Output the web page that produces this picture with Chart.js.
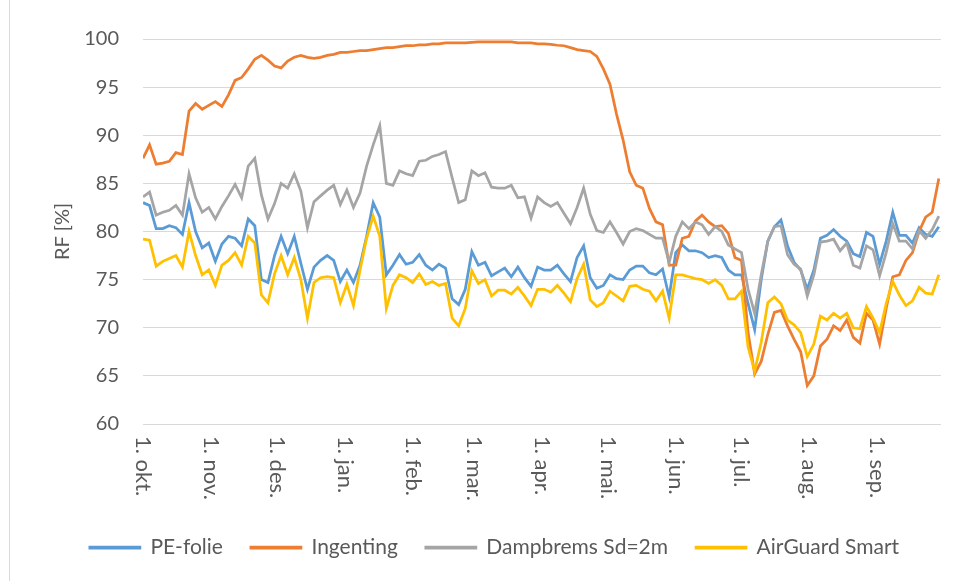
<!DOCTYPE html>
<html>
<head>
<meta charset="utf-8">
<script src="https://cdn.jsdelivr.net/npm/chart.js@4.4.1/dist/chart.umd.min.js"></script>
<style>
  html, body { margin: 0; padding: 0; background: #fff; }
  #wrap { width: 958px; height: 581px; }
</style>
</head>
<body>
<div id="wrap"><canvas id="rfChart" width="958" height="581"></canvas></div>
<script>
// day offsets from 1. okt. (sampled every 3rd day)
const sampleDay = [0, 3, 6, 9, 12, 15, 18, 21, 24, 27, 30, 33, 36, 39, 42, 45, 48, 51, 54, 57,
  60, 63, 66, 69, 72, 75, 78, 81, 84, 87, 90, 93, 96, 99, 102, 105, 108, 111, 114, 117,
  120, 123, 126, 129, 132, 135, 138, 141, 144, 147, 150, 153, 156, 159, 162, 165, 168, 171, 174, 177,
  180, 183, 186, 189, 192, 195, 198, 201, 204, 207, 210, 213, 216, 219, 222, 225, 228, 231, 234, 237,
  240, 243, 246, 249, 252, 255, 258, 261, 264, 267, 270, 273, 276, 279, 282, 285, 288, 291, 294, 297,
  300, 303, 306, 309, 312, 315, 318, 321, 324, 327, 330, 333, 336, 339, 342, 345, 348, 351, 354, 357,
  360, 363];

const monthDay = [0, 31, 61, 92, 123, 151, 182, 212, 243, 273, 304, 335];
const monthLabel = ["1. okt.", "1. nov.", "1. des.", "1. jan.", "1. feb.", "1. mar.",
  "1. apr.", "1. mai.", "1. jun.", "1. jul.", "1. aug.", "1. sep."];

const yTicks = [60, 65, 70, 75, 80, 85, 90, 95, 100];

const peFolie = [83.0, 82.7, 80.3, 80.3, 80.6, 80.4, 79.7, 83.0, 80.0, 78.3, 78.8, 76.9, 78.7, 79.5, 79.3, 78.5, 81.3, 80.6, 75.0, 74.7,
  77.5, 79.5, 77.7, 79.5, 76.7, 74.0, 76.3, 77.0, 77.5, 77.0, 74.8, 76.0, 74.7, 76.5, 79.5, 83.0, 81.5, 75.5, 76.5, 77.6,
  76.6, 76.8, 77.6, 76.5, 76.0, 76.6, 76.2, 73.0, 72.4, 74.0, 77.9, 76.5, 76.8, 75.4, 75.8, 76.2, 75.3, 76.3, 75.2, 74.3,
  76.3, 76.0, 76.0, 76.5, 75.6, 74.8, 77.3, 78.5, 75.2, 74.1, 74.4, 75.5, 75.1, 75.0, 76.0, 76.4, 76.4, 75.7, 75.5, 76.1,
  73.2, 77.8, 78.6, 78.0, 78.0, 77.8, 77.3, 77.5, 77.3, 76.0, 75.5, 75.5, 72.5, 69.8, 75.0, 79.0, 80.5, 81.2, 78.5, 76.8,
  76.0, 74.0, 76.0, 79.3, 79.6, 80.2, 79.5, 79.0, 77.7, 77.4, 79.9, 79.5, 76.6, 79.0, 82.0, 79.6, 79.6, 78.8, 80.4, 79.7,
  79.5, 80.5];

const ingenting = [87.6, 89.0, 87.0, 87.1, 87.3, 88.2, 88.0, 92.5, 93.3, 92.7, 93.1, 93.5, 93.0, 94.2, 95.7, 96.0, 96.9, 97.9, 98.3, 97.8,
  97.2, 97.0, 97.7, 98.1, 98.3, 98.1, 98.0, 98.1, 98.3, 98.4, 98.6, 98.6, 98.7, 98.8, 98.8, 98.9, 99.0, 99.1, 99.1, 99.2,
  99.3, 99.3, 99.4, 99.4, 99.5, 99.5, 99.6, 99.6, 99.6, 99.6, 99.65, 99.7, 99.7, 99.7, 99.7, 99.7, 99.7, 99.6, 99.6, 99.6,
  99.5, 99.5, 99.45, 99.35, 99.3, 99.1, 98.9, 98.8, 98.7, 98.2, 96.9, 95.3, 92.2, 89.5, 86.2, 84.8, 84.5, 82.4, 81.0, 80.7,
  76.5, 76.5, 79.3, 79.5, 81.1, 81.7, 81.0, 80.5, 80.6, 79.8, 77.3, 77.0, 69.5, 65.2, 66.5, 69.3, 71.6, 71.8, 70.2, 68.8,
  67.5, 64.0, 65.0, 68.1, 68.8, 70.2, 69.7, 70.8, 69.0, 68.4, 71.5, 70.8, 68.3, 72.0, 75.3, 75.5, 77.0, 77.8, 80.0, 81.5,
  82.0, 85.5];

const dampbrems = [83.6, 84.1, 81.7, 82.0, 82.2, 82.7, 81.7, 86.0, 83.5, 82.0, 82.5, 81.3, 82.6, 83.7, 84.9, 83.5, 86.8, 87.6, 83.8, 81.3,
  82.9, 85.0, 84.5, 86.0, 84.2, 80.4, 83.1, 83.7, 84.3, 84.8, 82.8, 84.3, 82.5, 84.0, 86.8, 89.0, 91.0, 85.0, 84.8, 86.3,
  86.0, 85.8, 87.3, 87.4, 87.8, 88.0, 88.3, 85.6, 83.0, 83.3, 86.3, 85.8, 86.1, 84.6, 84.5, 84.5, 84.8, 83.5, 83.6, 81.4,
  83.6, 83.0, 82.6, 83.0, 81.9, 80.8, 82.5, 84.5, 81.8, 80.1, 79.9, 81.0, 79.9, 78.7, 80.0, 80.3, 80.1, 79.7, 79.3, 79.3,
  76.8, 79.5, 81.0, 80.3, 81.0, 80.7, 79.7, 80.5, 80.0, 78.6, 78.2, 77.8, 74.0, 71.5, 75.5, 79.0, 80.5, 80.6, 77.6, 76.6,
  76.1, 73.3, 75.5, 78.9, 79.0, 79.2, 78.0, 78.8, 76.5, 76.2, 78.5, 78.1, 75.4, 77.8, 80.8, 79.0, 79.0, 78.2, 80.1, 79.3,
  80.2, 81.6];

const airGuard = [79.2, 79.1, 76.4, 76.9, 77.2, 77.5, 76.3, 80.0, 77.5, 75.5, 76.0, 74.4, 76.5, 77.0, 77.8, 76.5, 79.5, 78.8, 73.4, 72.6,
  75.6, 77.5, 75.5, 77.3, 75.0, 71.0, 74.7, 75.2, 75.3, 75.2, 72.6, 74.5, 72.3, 76.0, 79.3, 81.6, 79.5, 72.0, 74.4, 75.5,
  75.2, 74.7, 75.6, 74.5, 74.8, 74.4, 74.6, 71.0, 70.2, 72.0, 75.9, 74.6, 75.0, 73.3, 73.9, 73.9, 73.5, 74.2, 73.3, 72.3,
  74.0, 74.0, 73.7, 74.4, 73.6, 72.7, 75.1, 76.6, 72.9, 72.2, 72.6, 73.8, 73.3, 72.8, 74.3, 74.4, 74.0, 73.8, 72.8, 73.8,
  71.0, 75.5, 75.5, 75.3, 75.1, 75.0, 74.6, 75.0, 74.4, 73.0, 73.0, 73.8, 68.0, 65.5, 68.5, 72.6, 73.2, 72.5, 70.8, 70.3,
  69.5, 67.0, 68.3, 71.2, 70.8, 71.5, 71.0, 71.5, 70.0, 69.9, 72.2, 71.0, 69.5, 72.5, 74.8, 73.4, 72.3, 72.8, 74.2, 73.6,
  73.5, 75.5];

const FONT = "Lato, 'Noto Sans', sans-serif";
const TEXT = "#595959";

function pts(values) {
  return values.map((v, i) => ({ x: sampleDay[i], y: v }));
}

function series(label, values, color, order) {
  return {
    label,
    data: pts(values),
    borderColor: color,
    backgroundColor: color,
    borderWidth: 2.75,
    pointRadius: 0,
    tension: 0,
    order
  };
}

// month labels on the x axis, rotated clockwise like the original
const monthLabels = {
  id: "monthLabels",
  afterDraw(chart) {
    const xs = chart.scales.x;
    const ctx = chart.ctx;
    ctx.save();
    ctx.fillStyle = TEXT;
    ctx.font = "22px " + FONT;
    ctx.textAlign = "left";
    ctx.textBaseline = "middle";
    monthDay.forEach((d, i) => {
      const px = xs.getPixelForValue(d);
      ctx.save();
      ctx.translate(px, chart.chartArea.bottom + 12);
      ctx.rotate(Math.PI / 2);
      ctx.fillText(monthLabel[i], 0, 0);
      ctx.restore();
    });
    // thin frame edge at the left of the chart area
    ctx.strokeStyle = "#D9D9D9";
    ctx.lineWidth = 1;
    ctx.beginPath();
    ctx.moveTo(9.5, 0);
    ctx.lineTo(9.5, chart.height);
    ctx.stroke();
    ctx.restore();
  }
};

new Chart(document.getElementById("rfChart"), {
  type: "line",
  data: {
    datasets: [
      series("PE-folie", peFolie, "#5B9BD5", 4),
      series("Ingenting", ingenting, "#ED7D31", 3),
      series("Dampbrems Sd=2m", dampbrems, "#A5A5A5", 2),
      series("AirGuard Smart", airGuard, "#FFC000", 1)
    ]
  },
  options: {
    responsive: false,
    animation: false,
    layout: { padding: { left: 48, right: 17, top: 39, bottom: 13 } },
    plugins: {
      tooltip: { enabled: false },
      legend: {
        position: "bottom",
        labels: {
          boxWidth: 50,
          boxHeight: 1,
          padding: 28,
          color: TEXT,
          font: { family: FONT, size: 21 },
          sort: (a, b) => a.datasetIndex - b.datasetIndex
        }
      }
    },
    scales: {
      x: {
        type: "linear",
        min: 0,
        max: 364,
        grid: { display: false },
        border: { display: false },
        ticks: { display: false },
        afterFit(scale) { scale.height = 85; }
      },
      y: {
        min: 60,
        max: 100,
        afterBuildTicks(scale) { scale.ticks = yTicks.map(v => ({ value: v })); },
        grid: { color: "#D9D9D9", lineWidth: 1, drawTicks: false },
        border: { display: false },
        ticks: { color: TEXT, padding: 24, font: { family: FONT, size: 20 } },
        title: {
          display: true,
          text: "RF [%]",
          color: TEXT,
          font: { family: FONT, size: 20 },
          padding: { top: 3, bottom: 0 }
        },
        afterFit(scale) { scale.width = 95; }
      }
    }
  },
  plugins: [monthLabels]
});
</script>
</body>
</html>
